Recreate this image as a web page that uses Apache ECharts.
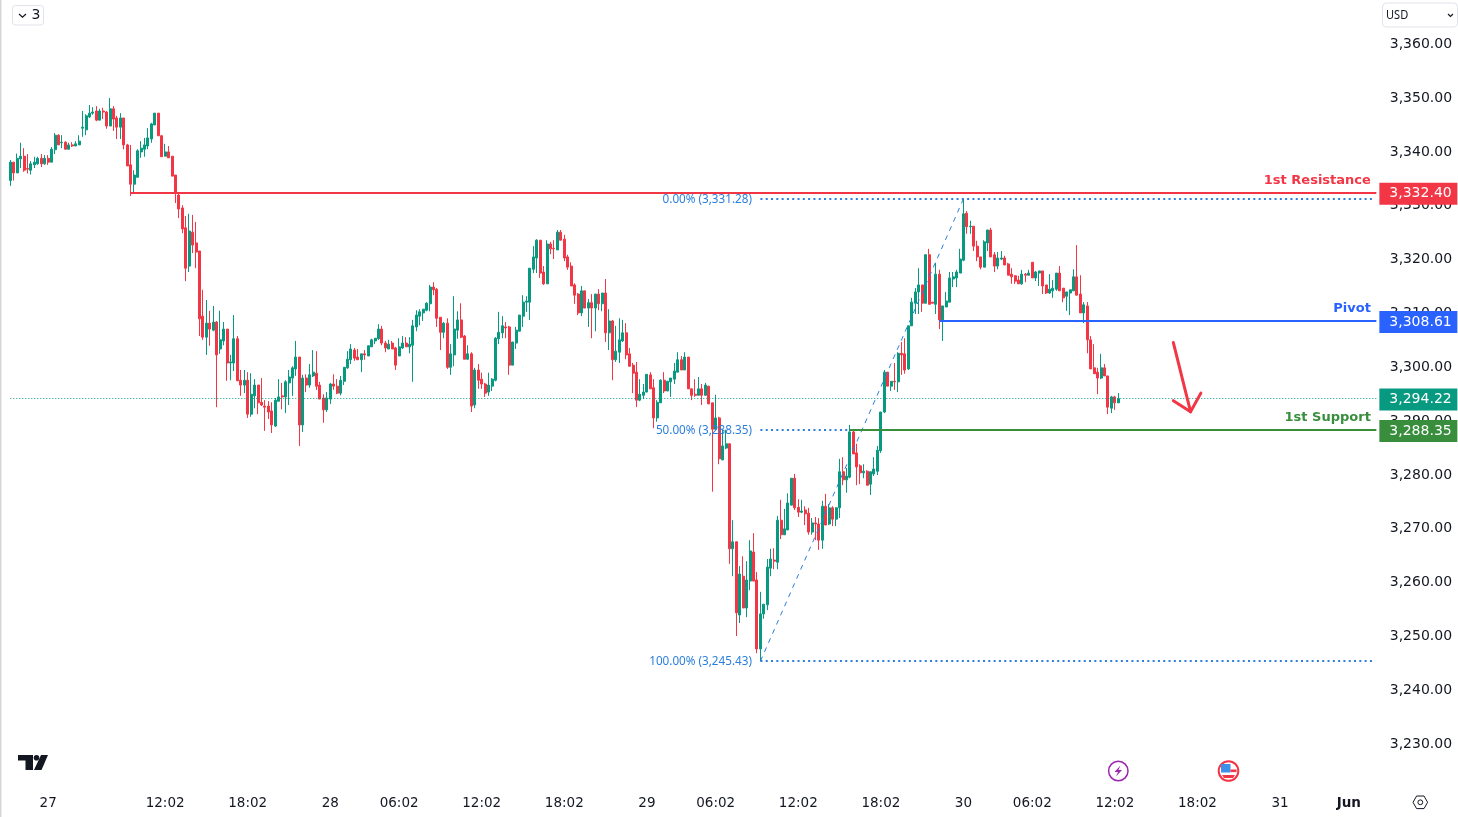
<!DOCTYPE html>
<html>
<head>
<meta charset="utf-8">
<title>Chart</title>
<script src="https://cdn.jsdelivr.net/npm/echarts@6/dist/echarts.min.js"></script>
<style>
html,body{margin:0;padding:0;background:#fff;}
#main{width:1458px;height:817px;}
</style>
</head>
<body>
<div id="main"></div>
<script>
// 15 minute candles
var opens = [
3334.7,3338.1,3336.1,3338.7,3339.2,3336.9,3336.6,3337.6,3337.8,3338.8,
3337.8,3338.8,3338.1,3340.4,3343.1,3341.7,3341.8,3340.5,3341.3,3341.1,
3341.3,3344.4,3344.1,3346.5,3347.2,3347.6,3345.9,3347.6,3347.4,3344.8,
3348.0,3346.3,3344.6,3346.3,3341.3,3337.6,3334.0,3335.3,3340.0,3340.5,
3341.1,3342.4,3345.0,3347.2,3343.0,3339.2,3340.0,3339.2,3335.7,3332.0,
3329.6,3325.9,3318.8,3325.1,3323.1,3321.6,3309.5,3305.6,3308.2,3306.9,
3308.4,3303.4,3304.9,3307.1,3300.8,3300.8,3305.3,3297.6,3296.7,3297.6,
3291.3,3294.7,3296.7,3293.5,3292.8,3292.8,3291.9,3289.1,3293.7,3294.7,
3294.5,3297.1,3298.0,3299.7,3301.9,3289.3,3298.0,3296.7,3298.4,3298.9,
3296.7,3294.3,3292.1,3294.1,3296.9,3296.5,3295.2,3297.4,3299.9,3301.4,
3303.2,3301.9,3301.4,3302.5,3302.1,3303.8,3304.9,3305.3,3307.1,3304.5,
3303.4,3304.5,3303.6,3302.1,3303.6,3304.5,3303.8,3304.1,3307.5,3309.5,
3310.1,3310.6,3311.8,3314.9,3314.5,3309.3,3306.5,3308.2,3300.0,3302.3,
3306.9,3308.8,3305.8,3301.5,3302.5,3293.0,3299.5,3297.8,3296.9,3295.4,
3296.5,3297.6,3305.3,3306.4,3307.5,3307.5,3300.4,3304.5,3306.7,3309.5,
3312.1,3312.1,3318.2,3320.3,3323.6,3317.7,3315.5,3322.9,3322.1,3321.8,
3325.1,3323.8,3320.5,3318.8,3315.3,3313.6,3310.1,3314.2,3311.0,3312.0,
3311.0,3313.6,3311.8,3313.8,3306.4,3308.6,3301.4,3302.8,3304.9,3306.4,
3302.5,3300.4,3299.1,3293.9,3294.8,3295.4,3298.6,3296.2,3290.6,3293.4,
3297.6,3295.6,3297.3,3297.8,3299.1,3301.4,3299.5,3301.9,3296.0,3295.0,
3294.8,3296.0,3294.8,3296.5,3293.4,3288.5,3290.6,3282.8,3285.0,3285.8,
3266.3,3267.6,3254.0,3261.2,3255.3,3260.3,3265.7,3260.5,3247.7,3254.2,
3255.9,3262.7,3264.2,3263.8,3271.6,3268.9,3269.8,3274.4,3279.4,3274.0,
3273.1,3273.5,3272.9,3269.4,3271.1,3270.9,3267.9,3274.2,3270.9,3273.9,
3271.8,3273.9,3280.6,3279.1,3279.6,3288.0,3284.1,3281.7,3280.4,3280.7,
3278.3,3280.2,3280.7,3284.5,3291.7,3299.1,3296.5,3297.4,3297.3,3302.6,
3302.5,3299.7,3307.7,3311.9,3314.0,3315.3,3311.9,3320.9,3312.1,3311.7,
3317.3,3308.8,3311.2,3312.1,3316.4,3316.6,3317.5,3319.9,3328.6,3326.1,
3326.2,3322.5,3320.5,3318.6,3323.1,3325.5,3320.9,3318.8,3320.1,3320.3,
3319.2,3317.3,3317.0,3316.2,3315.5,3317.3,3317.1,3319.5,3316.6,3317.5,
3317.9,3315.3,3313.8,3314.2,3314.5,3317.5,3314.7,3313.2,3313.8,3314.2,
3316.8,3313.6,3310.1,3311.4,3305.1,3299.9,3299.1,3298.0,3299.9,3298.4,
3292.4,3294.5,3293.4];
var highs = [
3338.5,3338.1,3339.7,3341.7,3340.7,3339.6,3338.3,3339.1,3339.1,3339.6,
3339.4,3339.4,3340.9,3343.5,3343.3,3343.1,3342.0,3341.7,3341.8,3342.0,
3343.1,3347.6,3347.0,3348.7,3348.3,3348.5,3348.0,3348.2,3347.6,3350.0,
3348.5,3346.7,3347.2,3346.3,3341.5,3341.3,3336.6,3340.5,3342.0,3342.6,
3344.4,3345.4,3347.2,3347.2,3343.1,3341.5,3341.1,3339.2,3335.7,3332.2,
3330.1,3328.1,3328.5,3328.3,3327.0,3321.6,3314.4,3312.5,3310.5,3311.4,
3308.6,3310.5,3308.4,3307.1,3302.3,3309.7,3305.8,3299.5,3299.5,3299.1,
3298.9,3297.8,3296.7,3298.0,3293.9,3293.7,3293.5,3294.3,3297.8,3297.1,
3297.6,3299.5,3300.2,3304.9,3301.9,3298.6,3298.7,3300.6,3303.2,3303.0,
3297.3,3295.0,3295.4,3297.1,3298.7,3297.8,3298.4,3300.0,3303.0,3304.3,
3303.6,3303.4,3302.5,3303.2,3304.0,3305.3,3305.4,3308.0,3307.7,3304.9,
3305.1,3304.9,3303.8,3305.4,3305.8,3305.6,3305.6,3308.8,3310.6,3310.8,
3310.8,3312.1,3315.3,3315.8,3314.7,3309.3,3308.4,3309.1,3304.3,3313.2,
3310.4,3311.9,3306.0,3304.1,3302.8,3299.9,3300.6,3299.0,3297.1,3299.0,
3298.0,3305.6,3310.3,3309.5,3308.4,3307.7,3304.7,3307.5,3309.7,3313.4,
3313.2,3318.4,3322.5,3323.8,3323.6,3318.8,3323.6,3323.3,3323.6,3325.5,
3325.5,3324.6,3320.9,3319.5,3315.6,3313.8,3315.1,3314.2,3312.7,3313.6,
3313.6,3314.5,3313.8,3316.4,3310.8,3308.8,3307.7,3309.1,3308.8,3308.2,
3303.6,3300.8,3301.0,3297.8,3296.9,3298.7,3299.1,3297.8,3293.9,3297.8,
3299.1,3297.4,3298.0,3300.8,3302.8,3302.1,3302.8,3301.9,3296.0,3297.8,
3298.2,3296.9,3297.1,3296.5,3293.4,3294.9,3290.8,3288.4,3288.4,3285.8,
3271.6,3267.6,3263.1,3264.9,3264.0,3267.9,3269.2,3262.0,3258.3,3256.0,
3264.4,3266.3,3266.4,3272.4,3275.4,3273.7,3276.6,3279.4,3280.2,3275.5,
3275.4,3274.2,3273.9,3272.0,3272.2,3272.0,3275.2,3276.5,3274.6,3274.2,
3274.0,3283.0,3283.3,3281.3,3289.3,3288.4,3285.8,3282.0,3282.0,3280.9,
3280.6,3283.3,3285.4,3291.7,3299.5,3299.1,3297.4,3300.8,3302.8,3304.7,
3305.4,3307.7,3312.9,3314.7,3318.4,3315.3,3321.0,3322.0,3312.1,3319.4,
3318.1,3311.4,3314.0,3317.7,3317.7,3318.1,3322.0,3331.3,3329.0,3327.2,
3326.2,3323.5,3320.5,3323.6,3325.5,3325.9,3321.4,3321.4,3321.6,3320.7,
3319.4,3318.4,3317.1,3317.0,3318.1,3317.5,3318.1,3319.5,3317.9,3317.9,
3317.9,3315.3,3317.3,3316.2,3317.5,3318.8,3314.7,3314.0,3314.4,3318.2,
3322.7,3317.1,3312.1,3312.1,3305.8,3304.3,3299.9,3302.5,3300.6,3298.4,
3294.7,3294.7,3295.2];
var lows = [
3333.7,3334.7,3336.1,3337.0,3336.3,3336.0,3335.8,3337.0,3337.6,3337.2,
3337.6,3337.6,3338.1,3339.6,3341.3,3340.7,3340.5,3340.5,3340.9,3341.1,
3341.3,3342.8,3343.1,3346.3,3346.9,3345.7,3345.9,3346.1,3344.3,3344.8,
3343.9,3342.4,3342.4,3340.5,3337.4,3331.8,3332.4,3335.2,3338.9,3339.1,
3340.5,3341.7,3345.0,3343.0,3339.1,3339.2,3338.9,3335.5,3330.5,3327.7,
3324.9,3316.0,3317.7,3321.2,3318.4,3305.8,3305.1,3302.3,3304.0,3306.7,
3292.6,3302.5,3304.1,3297.5,3297.6,3299.3,3297.5,3294.7,3295.2,3290.6,
3290.8,3292.4,3291.3,3292.8,3288.2,3290.4,3287.8,3288.9,3293.7,3292.2,
3291.5,3293.0,3294.7,3298.4,3285.4,3288.0,3295.4,3296.2,3298.2,3295.8,
3294.1,3289.7,3291.7,3293.2,3295.8,3295.0,3294.8,3296.7,3299.7,3300.6,
3301.2,3301.4,3299.1,3301.4,3302.1,3303.8,3304.3,3305.1,3304.1,3302.8,
3303.4,3303.4,3299.5,3302.1,3303.4,3303.8,3302.6,3297.3,3306.7,3307.8,
3308.6,3310.4,3310.4,3313.4,3307.5,3303.2,3305.4,3299.7,3298.6,3300.2,
3305.3,3305.4,3301.5,3301.4,3291.7,3292.4,3296.0,3296.0,3294.5,3294.7,
3295.6,3297.4,3304.3,3305.4,3305.4,3298.6,3300.4,3303.4,3306.7,3307.5,
3310.3,3308.8,3317.5,3317.5,3316.6,3315.3,3315.5,3321.0,3320.1,3321.8,
3323.6,3319.7,3318.1,3315.1,3311.8,3309.7,3309.5,3311.0,3307.5,3305.4,
3306.7,3310.6,3310.4,3304.7,3303.2,3297.6,3301.0,3300.8,3304.7,3301.5,
3300.2,3295.2,3292.6,3293.7,3294.1,3295.4,3296.0,3288.7,3289.9,3293.4,
3295.2,3295.6,3294.5,3296.9,3299.1,3299.5,3299.5,3296.0,3293.9,3294.5,
3294.8,3293.0,3294.8,3293.2,3276.9,3288.4,3282.0,3282.8,3284.8,3263.5,
3261.2,3250.1,3252.5,3255.3,3253.6,3258.6,3260.3,3246.9,3245.4,3253.3,
3254.9,3261.2,3262.5,3262.5,3268.1,3268.9,3269.8,3274.4,3273.5,3272.2,
3272.9,3270.7,3268.9,3268.9,3267.9,3266.1,3266.3,3270.7,3270.7,3270.5,
3270.5,3272.0,3278.1,3276.7,3279.4,3283.9,3278.1,3278.3,3279.4,3278.1,
3276.3,3279.8,3280.0,3284.1,3291.5,3296.5,3295.6,3295.8,3295.4,3298.6,
3298.8,3299.5,3307.7,3309.9,3309.9,3310.3,3311.9,3311.7,3311.9,3309.9,
3307.1,3304.9,3311.2,3312.1,3314.9,3314.9,3317.5,3319.7,3324.8,3324.8,
3321.6,3319.7,3318.2,3318.6,3321.6,3320.5,3317.7,3318.2,3319.9,3319.0,
3317.1,3315.5,3315.5,3315.5,3315.3,3315.8,3317.1,3316.6,3316.0,3315.1,
3313.6,3313.6,3313.6,3312.9,3314.2,3314.2,3312.1,3310.5,3309.7,3314.2,
3313.4,3310.1,3308.2,3302.6,3299.7,3298.8,3295.0,3297.8,3298.4,3291.3,
3291.5,3292.1,3293.4];
var closes = [
3338.1,3336.1,3338.8,3339.2,3336.6,3336.8,3337.8,3338.1,3338.8,3337.8,
3338.8,3338.1,3340.5,3343.1,3341.3,3341.8,3340.5,3341.3,3341.1,3341.5,
3342.0,3344.6,3346.7,3347.2,3347.4,3345.9,3347.6,3347.4,3344.8,3348.0,
3346.1,3344.6,3346.3,3341.3,3337.4,3334.0,3335.7,3340.2,3340.7,3341.3,
3342.6,3345.2,3347.2,3343.0,3339.1,3340.0,3338.9,3335.5,3332.4,3329.4,
3325.7,3318.4,3325.3,3322.7,3321.4,3309.0,3305.6,3308.2,3307.1,3308.4,
3302.3,3305.1,3307.1,3300.8,3301.0,3305.3,3297.5,3296.7,3297.6,3291.3,
3295.0,3296.7,3293.4,3293.0,3292.6,3291.7,3289.3,3293.9,3294.5,3294.5,
3297.3,3298.2,3299.9,3301.9,3289.3,3298.0,3296.7,3298.6,3299.1,3296.5,
3294.1,3292.1,3294.3,3296.9,3296.5,3295.2,3297.6,3300.0,3301.5,3303.4,
3301.7,3301.4,3302.5,3302.3,3304.0,3305.1,3305.4,3307.1,3304.5,3303.6,
3304.3,3303.4,3300.4,3303.8,3304.5,3303.8,3304.3,3307.7,3309.7,3310.3,
3310.8,3311.9,3314.9,3314.4,3309.1,3306.5,3308.2,3300.0,3302.5,3307.1,
3308.8,3305.6,3301.5,3302.5,3292.8,3299.5,3297.6,3296.9,3295.2,3296.7,
3297.8,3305.4,3306.5,3307.7,3307.3,3300.4,3304.7,3306.9,3309.7,3312.1,
3312.3,3318.4,3320.5,3323.6,3317.5,3315.5,3322.9,3322.0,3322.0,3325.1,
3323.6,3320.3,3318.6,3315.1,3313.4,3310.1,3314.2,3311.0,3312.0,3311.0,
3313.6,3311.8,3313.8,3306.4,3308.6,3301.4,3303.0,3305.1,3306.4,3302.3,
3300.2,3298.9,3293.9,3295.0,3295.4,3298.7,3296.0,3290.6,3293.5,3297.6,
3295.6,3297.4,3298.0,3299.3,3301.4,3299.5,3301.9,3296.0,3294.8,3294.8,
3296.0,3294.8,3296.7,3293.2,3288.5,3290.6,3283.0,3285.4,3285.8,3266.3,
3267.6,3254.4,3261.6,3255.3,3260.5,3265.9,3260.3,3247.7,3254.2,3256.0,
3262.9,3264.4,3264.0,3271.6,3268.9,3270.0,3274.8,3279.4,3273.9,3273.1,
3273.3,3272.8,3269.4,3271.1,3270.9,3267.9,3274.2,3270.7,3273.9,3271.8,
3273.9,3280.6,3279.1,3279.8,3288.0,3283.9,3281.5,3280.4,3280.7,3278.1,
3280.6,3281.1,3284.6,3291.7,3299.1,3296.5,3297.4,3297.3,3302.6,3302.3,
3299.5,3307.7,3312.1,3314.0,3315.3,3311.9,3320.9,3311.7,3311.9,3317.3,
3308.8,3311.4,3312.3,3316.6,3316.8,3317.7,3320.1,3328.5,3326.1,3326.2,
3322.5,3320.5,3318.6,3323.3,3325.5,3320.5,3318.8,3320.3,3320.3,3319.0,
3317.1,3316.8,3316.0,3315.5,3317.3,3317.1,3317.5,3316.6,3317.7,3317.9,
3315.1,3313.8,3314.5,3314.7,3317.5,3314.2,3312.9,3314.0,3314.4,3316.8,
3313.4,3310.1,3311.6,3305.1,3299.7,3298.8,3298.0,3299.9,3298.4,3292.6,
3294.5,3293.4,3294.2];

var barCount = 398; // candles plus the empty bars up to the price scale
var xTickIndex = [11,45,69,93,113,137,161,185,205,229,253,277,297,321,345,369,389];
var xTickText = ['27','12:02','18:02','28','06:02','12:02','18:02','29','06:02','12:02','18:02','30','06:02','12:02','18:02','31','Jun'];
var yTicks = [3230,3240,3250,3260,3270,3280,3290,3300,3310,3320,3330,3340,3350,3360];

var levelNames = ['1st Resistance','Pivot','1st Support'];
var levelValues = [3332.40,3308.61,3288.35];
var levelStart = [35,270,244];
var levelColors = ['#f23645','#2962ff','#388e3c'];
var lastPrice = 3294.22;

var fibNames = ['0.00%','50.00%','100.00%'];
var fibValues = [3331.28,3288.35,3245.43];
var fibStart = 218, fibEnd = 396, fibTop = 277;

// arrow drawn on the chart [bar, price]
var arrowShaft = [[338,3304.6],[343,3291.75]];
var arrowLeft = [[338,3293.8],[343,3291.75]];
var arrowRight = [[346,3295.2],[343,3291.75]];

var upColor = '#089981', downColor = '#f23645', fibColor = '#2b7fdb', textColor = '#131722';
var fontName = '"DejaVu Sans", sans-serif';

var categories = [];
for (var i = 0; i < barCount; i++) {
	var pos = xTickIndex.indexOf(i);
	categories.push(pos >= 0 ? xTickText[pos] : '');
}
var candles = opens.map(function (o, k) {
	return [o, closes[k], lows[k], highs[k]];
});
function money(v) {
	return v.toFixed(2).replace(/\B(?=(\d{3})(?!\d))/g, ',');
}

function segment(a, b, color, width, type, cap) {
	return [
		{coord: a, lineStyle: {color: color, width: width, type: type, cap: cap || 'butt'}},
		{coord: b}
	];
}
function priceTag(value, color) {
	return {
		show: true, position: 'end', distance: 3, offset: [0, 1],
		formatter: money(value),
		color: '#fff', backgroundColor: color,
		fontFamily: fontName, fontSize: 14,
		width: 62, height: 14, lineHeight: 14, align: 'left',
		padding: [4, 6, 4, 10]
	};
}
function levelSeries() {
	var lines = [], points = [];
	levelNames.forEach(function (name, k) {
		var seg = segment([levelStart[k], levelValues[k]], [barCount - 1, levelValues[k]], levelColors[k], 2, 'solid');
		seg[0].label = priceTag(levelValues[k], levelColors[k]);
		lines.push(seg);
		points.push({
			coord: [barCount - 1, levelValues[k]],
			label: {formatter: name, color: levelColors[k]}
		});
	});
	return {
		type: 'line', data: [], z: 4, silent: true, clip: false,
		markLine: {
			silent: true, symbol: 'none', animation: false, clip: false,
			label: {show: false}, emphasis: {disabled: true}, data: lines
		},
		markPoint: {
			silent: true, symbol: 'circle', symbolSize: 1, animation: false,
			itemStyle: {color: 'transparent'},
			label: {
				show: true, position: 'left', distance: 5, offset: [0, -12],
				fontFamily: fontName, fontSize: 13, fontWeight: 'bold'
			},
			data: points
		}
	};
}
function fibSeries() {
	var lines = [], points = [];
	fibValues.forEach(function (v, k) {
		lines.push(segment([fibStart, v], [fibEnd, v], fibColor, 2, [2, 3.3]));
		points.push({
			coord: [fibStart, v],
			label: {formatter: fibNames[k] + ' (' + money(v) + ')'}
		});
	});
	lines.push(segment([fibStart, fibValues[2]], [fibTop, fibValues[0]], fibColor, 1, [5, 5]));
	return {
		type: 'line', data: [], z: 1, silent: true,
		markLine: {
			silent: true, symbol: 'none', animation: false,
			label: {show: false}, emphasis: {disabled: true}, data: lines
		},
		markPoint: {
			silent: true, symbol: 'circle', symbolSize: 1, animation: false,
			itemStyle: {color: 'transparent'},
			label: {
				show: true, position: 'left', distance: 8, offset: [0, 0.5],
				color: fibColor, fontFamily: '"Noto Sans", sans-serif', fontSize: 11.7
			},
			data: points
		}
	};
}
function lastPriceSeries() {
	var seg = segment([0, lastPrice], [barCount - 1, lastPrice], upColor, 1, [1, 2]);
	seg[0].label = priceTag(lastPrice, upColor);
	return {
		type: 'line', data: [], z: 3, silent: true, clip: false,
		markLine: {
			silent: true, symbol: 'none', animation: false, clip: false,
			label: {show: false}, emphasis: {disabled: true}, data: [seg]
		}
	};
}
function arrowSeries() {
	return {
		type: 'line', data: [], z: 5, silent: true,
		markLine: {
			silent: true, symbol: 'none', animation: false,
			label: {show: false}, emphasis: {disabled: true},
			data: [
				segment(arrowShaft[0], arrowShaft[1], downColor, 3, 'solid', 'round'),
				segment(arrowLeft[0], arrowLeft[1], downColor, 3, 'solid', 'round'),
				segment(arrowRight[0], arrowRight[1], downColor, 3, 'solid', 'round')
			]
		}
	};
}

// toolbar bits and small icons around the chart
function decorations() {
	var gray = '#e0e3eb';
	return [
		{type: 'rect', shape: {x: 0, y: 0, width: 1.5, height: 817}, style: {fill: '#d6d6d6'}},
		{type: 'rect', shape: {x: 12.5, y: 5.5, width: 31, height: 19.5, r: 3}, style: {fill: '#fff', stroke: gray}},
		{type: 'polyline', shape: {points: [[19, 14], [22.5, 17.3], [26, 14]]}, style: {fill: 'none', stroke: textColor, lineWidth: 1.2}},
		{type: 'text', style: {x: 31.5, y: 15, text: '3', fill: textColor, font: '14px ' + fontName, verticalAlign: 'middle'}},
		{type: 'rect', shape: {x: 1382.5, y: 3, width: 75, height: 24, r: 4}, style: {fill: '#fff', stroke: gray}},
		{type: 'text', x: 1386, y: 15, scaleX: 0.85, style: {x: 0, y: 0, text: 'USD', fill: textColor, font: '13px "Noto Sans", sans-serif', verticalAlign: 'middle'}},
		{type: 'polyline', shape: {points: [[1448, 14], [1450.5, 16.5], [1453, 14]]}, style: {fill: 'none', stroke: textColor, lineWidth: 1.2}},
		// logo
		{type: 'polygon', shape: {points: [[18, 755], [33, 755], [33, 770], [25.5, 770], [25.5, 760.5], [18, 760.5]]}, style: {fill: textColor}},
		{type: 'circle', shape: {cx: 36.5, cy: 757.8, r: 2.8}, style: {fill: textColor}},
		{type: 'polygon', shape: {points: [[41, 755], [48, 755], [41.5, 770], [34, 770]]}, style: {fill: textColor}},
		// lightning event
		{type: 'circle', shape: {cx: 1118.3, cy: 771, r: 9.7}, style: {fill: '#fff', stroke: '#9c27b0', lineWidth: 1.5}},
		{type: 'polygon', shape: {points: [[1120.5, 765.5], [1114.5, 772], [1118, 772], [1116, 776.5], [1122, 770], [1118.5, 770]]}, style: {fill: '#9c27b0'}},
		// flag event
		{type: 'circle', shape: {cx: 1228.5, cy: 771, r: 9.8}, style: {fill: '#fff', stroke: '#f23645', lineWidth: 2}},
		{type: 'rect', shape: {x: 1221, y: 764, width: 9.5, height: 8.5}, style: {fill: '#3d8fe8'}},
		{type: 'rect', shape: {x: 1230.5, y: 769.5, width: 6, height: 2.6}, style: {fill: '#f23645'}},
		{type: 'polygon', shape: {points: [[1222, 775], [1235, 775], [1233, 778], [1224, 778]]}, style: {fill: '#f23645'}},
		// settings
		{type: 'polygon', shape: {points: [[1413, 802.3], [1416.6, 796], [1424, 796], [1427.6, 802.3], [1424, 808.6], [1416.6, 808.6]]}, style: {fill: '#fff', stroke: textColor, lineWidth: 1}},
		{type: 'circle', shape: {cx: 1420.3, cy: 802.3, r: 2.4}, style: {fill: '#fff', stroke: textColor, lineWidth: 1}}
	];
}

var chart = echarts.init(document.getElementById('main'));
chart.setOption({
	animation: false,
	backgroundColor: '#ffffff',
	grid: {left: 8.58, top: 0, width: 1369.5, height: 785, containLabel: false},
	xAxis: {
		type: 'category',
		data: categories,
		boundaryGap: true,
		axisLine: {show: false},
		axisTick: {show: false},
		splitLine: {show: false},
		axisLabel: {
			interval: 0, hideOverlap: false, margin: 11,
			fontFamily: fontName, fontSize: 13.5, color: textColor,
			formatter: function (v) {
				return v === 'Jun' ? '{b|Jun}' : v;
			},
			rich: {b: {fontFamily: fontName, fontSize: 13.5, fontWeight: 'bold', color: textColor}}
		}
	},
	yAxis: {
		type: 'value',
		position: 'right',
		min: 3222.43,
		max: 3368.21,
		axisLine: {show: false},
		axisTick: {show: false},
		splitLine: {show: false},
		axisLabel: {
			customValues: yTicks,
			align: 'right', margin: 74,
			padding: [0, 0, 2, 0],
			fontFamily: fontName, fontSize: 14, color: textColor,
			formatter: function (v) { return money(v); }
		}
	},
	series: [
		fibSeries(),
		lastPriceSeries(),
		{
			type: 'candlestick',
			data: candles,
			z: 2,
			barWidth: 2.5,
			silent: true,
			itemStyle: {color: upColor, color0: downColor, borderColor: upColor, borderColor0: downColor, borderWidth: 1}
		},
		levelSeries(),
		arrowSeries()
	],
	graphic: decorations()
});
</script>
</body>
</html>
